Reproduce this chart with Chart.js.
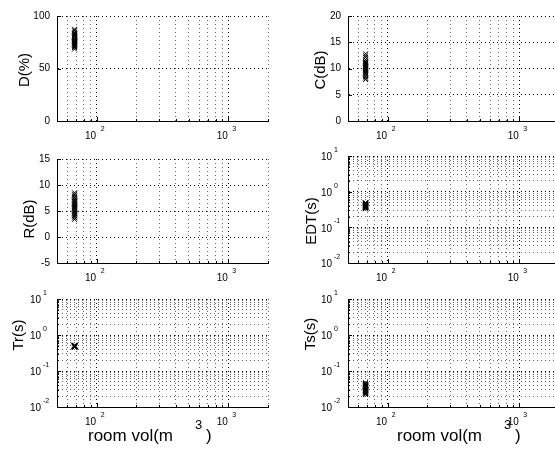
<!DOCTYPE html>
<html>
<head>
<meta charset="utf-8">
<script src="https://cdn.jsdelivr.net/npm/chart.js@4.4.0/dist/chart.umd.min.js"></script>
<style>
html, body { margin: 0; padding: 0; background: #fff; overflow: hidden; width: 555px; height: 459px; position: relative; }
canvas { position: absolute; }
</style>
</head>
<body>
<canvas id="ch-d"></canvas>
<canvas id="ch-c"></canvas>
<canvas id="ch-r"></canvas>
<canvas id="ch-edt"></canvas>
<canvas id="ch-tr"></canvas>
<canvas id="ch-ts"></canvas>
<script>
// ── Datos ─────────────────────────────────────────────────────────────────
const roomVol = [68, 68, 68, 68, 68, 68, 68, 68, 68, 68, 68, 68,
                 68, 68, 68, 68, 68, 68, 68, 68, 68, 68, 68, 68];
const dVals   = [68.5, 70, 71, 72, 72.5, 73.5, 74, 74.5, 75, 76, 76.5, 77,
                 77.5, 78, 79, 79.5, 80, 81, 81.5, 82.5, 83.5, 84.5, 86, 87.4];
const cVals   = [7.9, 8.2, 8.5, 8.8, 9.0, 9.2, 9.4, 9.6, 9.8, 10.0, 10.1, 10.3,
                 10.5, 10.6, 10.8, 10.9, 11.0, 11.1, 11.3, 11.4, 11.7, 12.1, 12.4, 12.8];
const rVals   = [3.4, 3.7, 4.0, 4.2, 4.4, 4.6, 4.8, 5.0, 5.2, 5.4, 5.6, 5.7,
                 5.9, 6.1, 6.3, 6.5, 6.7, 6.9, 7.1, 7.3, 7.6, 7.9, 8.2, 8.5];
const edtVals = [0.33, 0.34, 0.35, 0.36, 0.365, 0.37, 0.375, 0.38, 0.385, 0.39, 0.395, 0.40,
                 0.405, 0.41, 0.415, 0.42, 0.43, 0.435, 0.44, 0.45, 0.46, 0.47, 0.48, 0.49];
const trVals  = [0.46, 0.465, 0.47, 0.47, 0.475, 0.475, 0.48, 0.48, 0.48, 0.485, 0.485, 0.49,
                 0.49, 0.49, 0.495, 0.495, 0.50, 0.50, 0.505, 0.505, 0.51, 0.51, 0.515, 0.52];
const tsVals  = [0.022, 0.023, 0.024, 0.025, 0.026, 0.027, 0.028, 0.029, 0.030, 0.031, 0.032, 0.033,
                 0.034, 0.035, 0.036, 0.037, 0.038, 0.039, 0.040, 0.041, 0.042, 0.043, 0.045, 0.047];

// ── Ejes ──────────────────────────────────────────────────────────────────
const xMin = 50, xMax = 2000;
const xGridTicks = [60, 70, 80, 90, 100, 200, 300, 400, 500, 600, 700, 800, 900, 1000, 2000];
const xPowLabels = [2, 3];
const yLogGridTicks = [0.01, 0.02, 0.03, 0.04, 0.05, 0.06, 0.07, 0.08, 0.09,
                       0.1, 0.2, 0.3, 0.4, 0.5, 0.6, 0.7, 0.8, 0.9,
                       1, 2, 3, 4, 5, 6, 7, 8, 9, 10];
const yPowLabels = [-2, -1, 0, 1];

const FONT = "'Liberation Sans', Arial, Helvetica, sans-serif";
const AX_W = 57, PAD_T = 10, PAD_R = 8, AX_H = 45;

const isPow10 = v => { const l = Math.log10(v); return Math.abs(l - Math.round(l)) < 1e-9; };

function text(ctx, str, x, y, size, align) {
    ctx.font = size + 'px ' + FONT;
    ctx.textAlign = align;
    ctx.textBaseline = 'middle';
    ctx.fillText(str, x, y);
}

// ── Un panel ──────────────────────────────────────────────────────────────
function makePanel(id, area, spec) {
    const cv = document.getElementById(id);
    cv.width  = (area.r - area.l) + AX_W + PAD_R;
    cv.height = (area.b - area.t) + PAD_T + AX_H;
    cv.style.left = (area.l - AX_W) + 'px';
    cv.style.top  = (area.t - PAD_T) + 'px';

    const panelText = {
        id: 'panelText',
        afterDraw(chart) {
            const ctx = chart.ctx, a = chart.chartArea;
            const xs = chart.scales.x, ys = chart.scales.y;
            ctx.save();
            ctx.fillStyle = '#000';
            ctx.strokeStyle = '#000';
            ctx.lineWidth = 1;

            // marcas de escala hacia dentro, como en MATLAB
            ctx.beginPath();
            xs.ticks.forEach(t => {
                const px = Math.round(xs.getPixelForValue(t.value)) + 0.5;
                const len = isPow10(t.value) ? 4 : 2;
                ctx.moveTo(px, a.bottom);
                ctx.lineTo(px, a.bottom - len);
            });
            ys.ticks.forEach(t => {
                const py = Math.round(ys.getPixelForValue(t.value)) + 0.5;
                const len = (!spec.log || isPow10(t.value)) ? 4 : 2;
                ctx.moveTo(a.left, py);
                ctx.lineTo(a.left + len, py);
            });
            ctx.stroke();

            xPowLabels.forEach(p => {
                const px = xs.getPixelForValue(Math.pow(10, p));
                text(ctx, '10', px - 0.5, a.bottom + 15, 10, 'right');
                text(ctx, String(p), px + 4, a.bottom + 8, 7, 'left');
            });
            if (spec.log) {
                yPowLabels.forEach(p => {
                    const py = ys.getPixelForValue(Math.pow(10, p));
                    text(ctx, '10', a.left - 16, py + 1.5, 10, 'right');
                    text(ctx, String(p), a.left - 14, py - 6, 7, 'left');
                });
            }
            ctx.save();
            ctx.translate(a.left + spec.labX, a.top + spec.labY);
            ctx.rotate(-Math.PI / 2);
            text(ctx, spec.label, 0, 0, 15, 'center');
            ctx.restore();
            if (spec.xLabelX !== undefined) {
                const x0 = a.left + spec.xLabelX;
                text(ctx, 'room vol(m', x0, a.bottom + 29, 17, 'left');
                text(ctx, '3', x0 + 107, a.bottom + 18, 13, 'left');
                text(ctx, ')', x0 + 118, a.bottom + 29, 17, 'left');
            }
            ctx.restore();
        },
    };

    const gridColor = c => (c.tick && isPow10(c.tick.value)) ? '#000' : '#666';

    const yScale = spec.log ? {
        type: 'logarithmic', min: 0.01, max: 10,
        afterBuildTicks: s => { s.ticks = yLogGridTicks.map(v => ({ value: v })); },
        ticks: { display: false },
        grid: { color: gridColor, lineWidth: 1, drawTicks: false },
        border: { display: true, color: '#000', width: 1, dash: [1, 3] },
        afterFit: s => { s.width = AX_W; },
    } : {
        type: 'linear', min: spec.min, max: spec.max,
        ticks: { stepSize: spec.step, color: '#000', padding: 7, font: { family: FONT, size: 10 } },
        grid: { color: '#000', lineWidth: 1, drawTicks: false },
        border: { display: true, color: '#000', width: 1, dash: [1, 3] },
        afterFit: s => { s.width = AX_W; },
    };

    return new Chart(cv.getContext('2d'), {
        type: 'scatter',
        data: {
            datasets: [{
                data: roomVol.map((x, i) => ({ x: x, y: spec.values[i] })),
                pointStyle: 'crossRot', radius: 3.5,
                borderColor: '#000', backgroundColor: '#000', borderWidth: 1,
                showLine: false,
            }],
        },
        options: {
            responsive: false, animation: false, events: [],
            layout: { padding: { left: 0, top: PAD_T, right: PAD_R, bottom: 0 } },
            plugins: { legend: { display: false }, tooltip: { enabled: false } },
            scales: {
                x: {
                    type: 'logarithmic', min: xMin, max: xMax,
                    afterBuildTicks: s => { s.ticks = xGridTicks.map(v => ({ value: v })); },
                    ticks: { display: false },
                    grid: { color: gridColor, lineWidth: 1, drawTicks: false },
                    border: { display: true, color: '#000', width: 1, dash: [1, 3] },
                    afterFit: s => { s.height = AX_H; },
                },
                y: yScale,
            },
        },
        plugins: [panelText],
    });
}

makePanel('ch-d',   { l: 57,  r: 268, t: 13,  b: 121 }, { values: dVals,   label: 'D(%)',   min: 0,  max: 100, step: 50, labX: -32, labY: 54 });
makePanel('ch-c',   { l: 348, r: 559, t: 13,  b: 121 }, { values: cVals,   label: 'C(dB)',  min: 0,  max: 20,  step: 5,  labX: -27, labY: 54 });
makePanel('ch-r',   { l: 57,  r: 268, t: 156, b: 263 }, { values: rVals,   label: 'R(dB)',  min: -5, max: 15,  step: 5,  labX: -27, labY: 60 });
makePanel('ch-edt', { l: 348, r: 559, t: 156, b: 263 }, { values: edtVals, label: 'EDT(s)', log: true, labX: -36, labY: 65 });
makePanel('ch-tr',  { l: 57,  r: 268, t: 299, b: 407 }, { values: trVals,  label: 'Tr(s)',  log: true, labX: -38, labY: 36, xLabelX: 31 });
makePanel('ch-ts',  { l: 348, r: 559, t: 299, b: 407 }, { values: tsVals,  label: 'Ts(s)',  log: true, labX: -37, labY: 35, xLabelX: 49 });
</script>
</body>
</html>
